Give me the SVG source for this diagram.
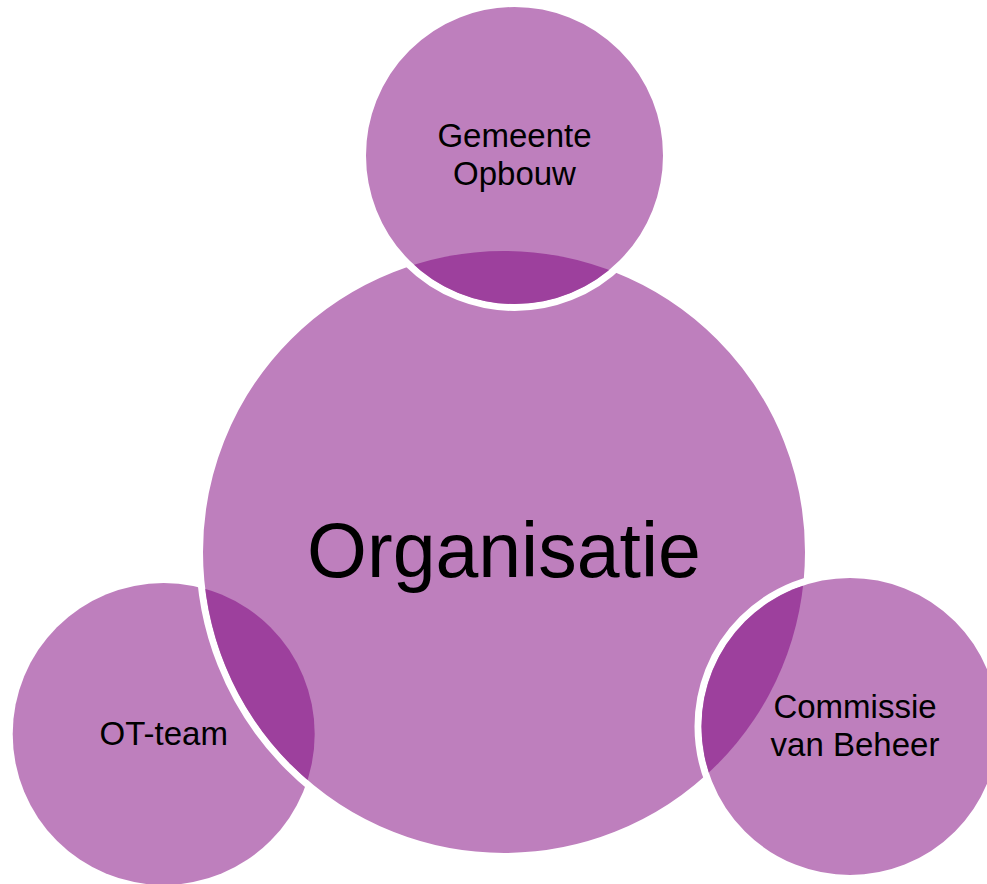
<svg xmlns="http://www.w3.org/2000/svg" width="987" height="884" viewBox="0 0 987 884">
<style>
.light{fill:#BE7FBD;}
.dark{fill:#9D409D;}
.ring{stroke:#FFFFFF;stroke-width:7;}
.lbl{font-family:"Liberation Sans",Arial,sans-serif;font-size:33px;fill:#000000;text-anchor:middle;}
.big{font-family:"Liberation Sans",Arial,sans-serif;font-size:77px;fill:#000000;text-anchor:middle;}
</style>
<defs>
<clipPath id="clipBig"><circle cx="504" cy="552" r="301"/></clipPath>
<clipPath id="clipTop"><circle cx="514.5" cy="155.5" r="148.5"/></clipPath>
<clipPath id="clipRight"><circle cx="850" cy="726.5" r="148.5"/></clipPath>
</defs>
<rect x="0" y="0" width="987" height="884" fill="#FFFFFF"/>
<g id="node-ot-team">
<circle class="light" cx="163.7" cy="734" r="151"/>
</g>
<g id="node-organisatie">
<circle class="light ring" cx="504" cy="552" r="304.5"/>
<circle class="dark" cx="163.7" cy="734" r="151" clip-path="url(#clipBig)"/>
</g>
<g id="node-gemeente-opbouw">
<circle class="light ring" cx="514.5" cy="155.5" r="152"/>
<circle class="dark" cx="504" cy="552" r="301" clip-path="url(#clipTop)"/>
</g>
<g id="node-commissie">
<circle class="light ring" cx="850" cy="726.5" r="152"/>
<circle class="dark" cx="504" cy="552" r="301" clip-path="url(#clipRight)"/>
</g>
<g id="connectors"></g>
<g id="labels">
<text class="big" x="504" y="577">Organisatie</text>
<text class="lbl" x="514.5" y="147">Gemeente</text>
<text class="lbl" x="514.5" y="185">Opbouw</text>
<text class="lbl" x="163.7" y="745">OT-team</text>
<text class="lbl" x="855" y="718">Commissie</text>
<text class="lbl" x="855" y="756">van Beheer</text>
</g>
</svg>
